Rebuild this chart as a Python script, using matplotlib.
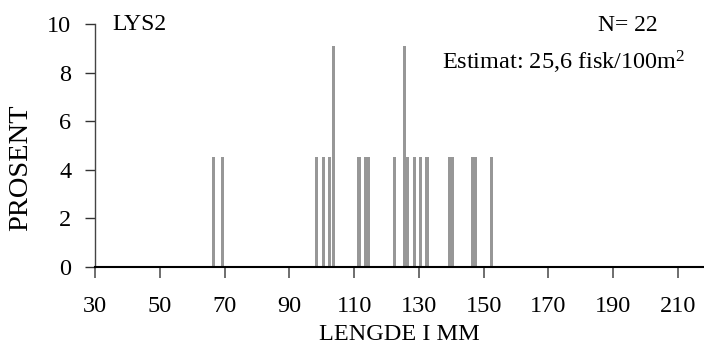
import matplotlib
matplotlib.use("Agg")
import matplotlib.pyplot as plt
import numpy as np

# Data: fish lengths (mm), each fish contributes 1/N of the total
lengths = [66, 69, 98, 100, 102, 103, 111, 113, 114, 122, 125, 126,
           128, 130, 132, 139, 140, 146, 147, 152]
counts = [1, 1, 1, 1, 1, 2, 1, 1, 1, 1, 2, 1,
          1, 1, 1, 1, 1, 1, 1, 1]
n_total = 22
x_ticks = [30, 50, 70, 90, 110, 130, 150, 170, 190, 210]
y_ticks = [0, 2, 4, 6, 8, 10]
title_txt = "LYS2"
n_txt = "N= 22"
est_txt = r"Estimat: 25,6 fisk/100m$^{2}$"
xlabel = "LENGDE I MM"
ylabel = "PROSENT"

plt.rcParams['font.family'] = ['Liberation Serif', 'DejaVu Serif']
plt.rcParams['mathtext.fontset'] = 'custom'
plt.rcParams['mathtext.rm'] = 'Liberation Serif'
plt.rcParams['mathtext.it'] = 'Liberation Serif'

fig = plt.figure(figsize=(7.04, 3.52), dpi=100)
ax = fig.add_axes([95/704, 85.3/352, 608/704, 242.4/352])

pct = np.array(counts) / n_total * 100
ax.bar(np.array(lengths) + 0.5, pct, width=0.95, color='#979797', linewidth=0)

ax.set_xlim(30, 217.7)
ax.set_ylim(0, 10)
ax.set_xticks(x_ticks)
ax.set_yticks(y_ticks)
fs = 17.5
ax.tick_params(axis='x', direction='out', length=8, width=1.2, color='#555555',
               labelsize=fs, pad=13)
ax.tick_params(axis='y', direction='out', length=7, width=1.0, color='#333333',
               labelsize=fs, pad=10)
ax.spines['top'].set_visible(False)
ax.spines['right'].set_visible(False)
ax.spines['bottom'].set_linewidth(1.5)
ax.spines['bottom'].set_color('black')
ax.spines['left'].set_linewidth(1.0)
ax.spines['left'].set_color('#444444')

ax.set_xlabel(xlabel, fontsize=fs, labelpad=5)
fig.text(21/704, 1 - 168/352, ylabel, rotation=90, fontsize=20.5,
         ha='center', va='center')

fig.text(112/704, 1 - 30/352, title_txt, fontsize=17, ha='left', va='baseline')
fig.text(658/704, 1 - 31/352, n_txt, fontsize=17, ha='right', va='baseline')
fig.text(686/704, 1 - 70/352, est_txt, fontsize=17.5, ha='right', va='baseline')

fig.savefig("out.png", dpi=100)
